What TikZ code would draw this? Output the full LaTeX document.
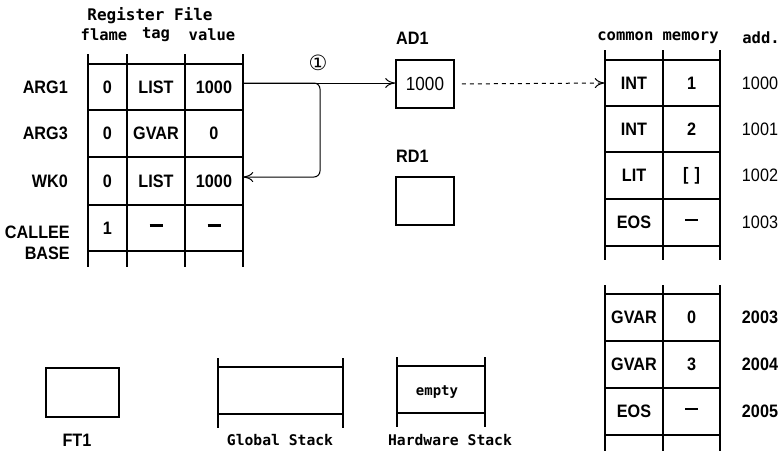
\documentclass[tikz,border=0pt]{standalone}
\usepackage{fontspec}
\setmainfont{Liberation Sans}[FakeStretch=0.9]
\newfontfamily\monof{DejaVu Sans Mono}
\newfontfamily\symf{DejaVu Sans}
\usetikzlibrary{arrows.meta}
\newcommand{\bardash}{\rule[5pt]{13pt}{2.5pt}}
\tikzset{
  lbl/.style={font=\fontsize{18}{20}\selectfont\bfseries, inner sep=0pt},
  hdr/.style={font=\fontsize{15.5}{18}\selectfont\monof\bfseries, inner sep=0pt},
  cellA/.style={minimum width=39pt, minimum height=46pt, inner sep=0pt, font=\fontsize{18}{20}\selectfont\bfseries},
  cellB/.style={minimum width=58pt, minimum height=46pt, inner sep=0pt, font=\fontsize{18}{20}\selectfont\bfseries},
  tl/.style={line width=1.6pt},
  boxx/.style={draw, line width=1.6pt, inner sep=0pt},
  arr/.style={line width=1pt, -{To[length=10pt,width=10pt]}},
  darr/.style={line width=1pt, dash pattern=on 4pt off 4pt, -{To[length=10pt,width=10pt]}},
}
\begin{document}
\begin{tikzpicture}[x=1pt,y=-1pt]
\useasboundingbox (0,0) rectangle (779,451);

% ---------- Register File ----------
\node[hdr, font=\fontsize{16}{18}\selectfont\monof\bfseries] (rfh) at (150,16) {Register File};
\node[hdr] (hfl) at (104,35) {flame};
\node[hdr] (htg) at (156,35) {tag};
\node[hdr] (hvl) at (212,35) {value};
\foreach \x in {88,127,185,243} \draw[tl] (\x,54) -- (\x,267);
\foreach \y in {64,110,157,205,251} \draw[tl] (88,\y) -- (243,\y);

\node[lbl, anchor=east] (l1) at (68,87) {ARG1};
\node[lbl, anchor=east] (l2) at (68,133) {ARG3};
\node[lbl, anchor=east] (l3) at (68,181) {WK0};
\node[lbl, anchor=east] (l4) at (70,232) {CALLEE};
\node[lbl, anchor=east] (l5) at (70,253) {BASE};

\node[cellA] (r1a) at (107.5,87) {0};
\node[cellB] (r1b) at (156,87) {LIST};
\node[cellB] (r1c) at (214,87) {1000};
\node[cellA] (r2a) at (107.5,133.5) {0};
\node[cellB] (r2b) at (156,133.5) {GVAR};
\node[cellB] (r2c) at (214,133.5) {0};
\node[cellA] (r3a) at (107.5,181) {0};
\node[cellB] (r3b) at (156,181) {LIST};
\node[cellB] (r3c) at (214,181) {1000};
\node[cellA] (r4a) at (107.5,228) {1};
\node[cellB] (r4b) at (156,228) {\bardash};
\node[cellB] (r4c) at (214,228) {\bardash};

% ---------- AD1 / RD1 ----------
\node[lbl, anchor=west] (ad1l) at (396,38) {AD1};
\node[boxx, minimum width=58pt, minimum height=48pt, font=\fontsize{19}{21}\selectfont] (ad1) at (425,84) {1000};
\node[lbl, anchor=west] (rd1l) at (396,156) {RD1};
\node[boxx, minimum width=58pt, minimum height=48pt] (rd1) at (425,201) {};

\node[font=\fontsize{21}{23}\selectfont\symf, inner sep=0pt] (c1) at (318,63) {①};
\coordinate (br) at (320,177);
\draw[arr] ([yshift=4pt]r1c.east) -- ([yshift=4pt]r1c.east -| ad1.west);
\draw[arr, rounded corners=6pt] ([yshift=4pt]r1c.east) -| (br) -- ([yshift=4pt]r3c.east);

% ---------- common memory ----------
\node[hdr] (cmh) at (658,38) {common memory};
\node[hdr] (addh) at (761,38) {add.};
\foreach \x in {605,663,720} \draw[tl] (\x,50) -- (\x,260);
\foreach \y in {60,106,152,199,246} \draw[tl] (605,\y) -- (720,\y);
\node[cellB] (m1a) at (634,83) {INT};
\node[cellB] (m1b) at (691.5,83) {1};
\node[cellB] (m2a) at (634,129) {INT};
\node[cellB] (m2b) at (691.5,129) {2};
\node[cellB] (m3a) at (634,175.5) {LIT};
\node[cellB] (m3b) at (691.5,175.5) {[\hspace{6pt}]};
\node[cellB] (m4a) at (634,222.5) {EOS};
\node[cellB] (m4b) at (691.5,222.5) {\bardash};
\node[lbl, font=\fontsize{18}{20}\selectfont] (a1) at (760,83) {1000};
\node[lbl, font=\fontsize{18}{20}\selectfont] (a2) at (760,129) {1001};
\node[lbl, font=\fontsize{18}{20}\selectfont] (a3) at (760,175.5) {1002};
\node[lbl, font=\fontsize{18}{20}\selectfont] (a4) at (760,222.5) {1003};

\draw[darr, shorten <=7pt] (ad1.east) -- (m1a.west);

\foreach \x in {605,663,720} \draw[tl] (\x,285) -- (\x,451);
\foreach \y in {294,341,388,435} \draw[tl] (605,\y) -- (720,\y);
\node[cellB] (g1a) at (634,317.5) {GVAR};
\node[cellB] (g1b) at (691.5,317.5) {0};
\node[cellB] (g2a) at (634,364.5) {GVAR};
\node[cellB] (g2b) at (691.5,364.5) {3};
\node[cellB] (g3a) at (634,411.5) {EOS};
\node[cellB] (g3b) at (691.5,411.5) {\bardash};
\node[lbl] (b1) at (760,317.5) {2003};
\node[lbl] (b2) at (760,364.5) {2004};
\node[lbl] (b3) at (760,411.5) {2005};

% ---------- bottom ----------
\node[boxx, minimum width=73pt, minimum height=49pt] (ft1) at (82.5,392.5) {};
\node[lbl] (ft1l) at (77,440) {FT1};

\draw[tl] (218,358) -- (218,428);
\draw[tl] (343,358) -- (343,428);
\draw[tl] (218,367) -- (343,367);
\draw[tl] (218,414) -- (343,414);
\node[hdr, font=\fontsize{14.7}{17}\selectfont\monof\bfseries] (gsl) at (280,440) {Global Stack};

\draw[tl] (397,357) -- (397,427);
\draw[tl] (485,357) -- (485,427);
\draw[tl] (397,366) -- (485,366);
\draw[tl] (397,413) -- (485,413);
\node[hdr, font=\fontsize{14}{16}\selectfont\monof\bfseries] (emp) at (437,392) {empty};
\node[hdr, font=\fontsize{14.7}{17}\selectfont\monof\bfseries] (hsl) at (450,440) {Hardware Stack};
\end{tikzpicture}
\end{document}
